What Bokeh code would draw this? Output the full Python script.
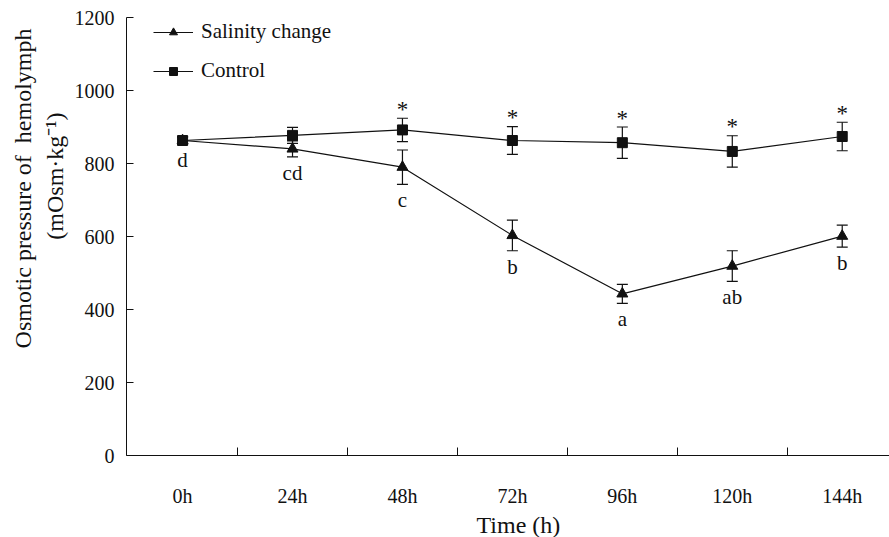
from bokeh.plotting import figure
from bokeh.models import (ColumnDataSource, Whisker, TeeHead, FixedTicker,
                          Legend, LegendItem, Title, Range1d)
from bokeh.core.properties import value
from bokeh.embed import file_html
from bokeh.resources import INLINE

# Sampling times and hemolymph osmotic pressure (mOsm/kg), mean and SD
times = ["0h", "24h", "48h", "72h", "96h", "120h", "144h"]
salinity_mean = [863, 840, 790, 603, 443, 519, 601]
salinity_sd = [10, 22, 47, 42, 26, 42, 30]
control_mean = [863, 877, 892, 863, 857, 833, 874]
control_sd = [10, 22, 32, 38, 43, 43, 39]
# Significance annotations
salinity_letters = ["d", "cd", "c", "b", "a", "ab", "b"]
control_marks = ["", "", "*", "*", "*", "*", "*"]
y_ticks = [0, 200, 400, 600, 800, 1000, 1200]

FONT_NAME = "Liberation Serif"
FONT = value(FONT_NAME)
INK = "#111111"

xs = list(range(len(times)))
sal = ColumnDataSource(dict(
    x=xs, y=salinity_mean,
    lower=[m - s for m, s in zip(salinity_mean, salinity_sd)],
    upper=[m + s for m, s in zip(salinity_mean, salinity_sd)],
    txt=salinity_letters))
ctl = ColumnDataSource(dict(
    x=xs, y=control_mean,
    lower=[m - s for m, s in zip(control_mean, control_sd)],
    upper=[m + s for m, s in zip(control_mean, control_sd)],
    txt=control_marks))

p = figure(width=889, height=537,
           x_range=Range1d(-0.51, len(times) - 0.57),
           y_range=Range1d(0, 1200),
           output_backend="svg", toolbar_location=None,
           min_border_left=126, min_border_right=0,
           min_border_top=17, min_border_bottom=82)
p.outline_line_color = None
p.xgrid.visible = False
p.ygrid.visible = False
p.background_fill_color = "white"
p.border_fill_color = "white"

# X axis: labels at the time points, tick marks between them
p.xaxis.ticker = FixedTicker(ticks=xs, minor_ticks=[i + 0.5 for i in xs[:-1]])
p.xaxis.major_label_overrides = {i: t for i, t in enumerate(times)}
p.xaxis.major_tick_in = 0
p.xaxis.major_tick_out = 0
p.xaxis.minor_tick_in = 8
p.xaxis.minor_tick_out = 0
p.xaxis.minor_tick_line_color = INK
p.xaxis.major_label_standoff = 29

p.yaxis.ticker = FixedTicker(ticks=y_ticks)
p.yaxis.minor_tick_line_color = None
p.yaxis.major_tick_in = 7
p.yaxis.major_tick_out = 0
p.yaxis.major_label_standoff = 12

for ax in (p.xaxis[0], p.yaxis[0]):
    ax.axis_line_color = INK
    ax.major_tick_line_color = INK
    ax.major_label_text_font = FONT_NAME
    ax.major_label_text_font_size = "20px"
    ax.major_label_text_color = INK

# Error bars
for src in (sal, ctl):
    w = Whisker(base="x", lower="lower", upper="upper", source=src,
                line_color=INK, line_width=1.2,
                upper_head=TeeHead(size=11, line_color=INK, line_width=1.2),
                lower_head=TeeHead(size=11, line_color=INK, line_width=1.2))
    p.add_layout(w)

# Series
sal_line = p.line("x", "y", source=sal, line_color=INK, line_width=1.2)
sal_pts = p.scatter("x", "y", source=sal, marker="triangle", size=11,
                    fill_color=INK, line_color=INK)
ctl_line = p.line("x", "y", source=ctl, line_color=INK, line_width=1.2)
ctl_pts = p.scatter("x", "y", source=ctl, marker="square", size=10,
                    fill_color=INK, line_color=INK)

# Letters under the salinity points, asterisks above the control points
p.text("x", "lower", text="txt", source=sal, text_align="center",
       text_baseline="top", y_offset=4, text_font=FONT,
       text_font_size="21px", text_color=INK)
p.text("x", "upper", text="txt", source=ctl, text_align="center",
       text_baseline="alphabetic", y_offset=-9, text_font=FONT,
       text_font_size="23px", text_color=INK)

legend = Legend(items=[
    LegendItem(label="Salinity change", renderers=[sal_line, sal_pts]),
    LegendItem(label="Control", renderers=[ctl_line, ctl_pts]),
], location=(27, 372), glyph_width=40, glyph_height=20, label_height=20,
    spacing=14, padding=0, margin=0, label_standoff=8,
    border_line_color=None, background_fill_alpha=0,
    label_text_font=FONT_NAME, label_text_font_size="21px",
    label_text_color=INK)
p.add_layout(legend)

# Two-line y-axis title, stacked left of the tick labels
y_unit = Title(text="(mOsm·kg⁻¹)", align="right", offset=95, standoff=8,
               text_font=FONT_NAME, text_font_size="24px",
               text_font_style="normal", text_color=INK)
y_name = Title(text="Osmotic pressure of\u00a0 hemolymph", align="right",
               offset=11, standoff=0, text_font=FONT_NAME,
               text_font_size="24px", text_font_style="normal",
               text_color=INK)
p.add_layout(y_unit, "left")
p.add_layout(y_name, "left")

# X-axis title
x_name = Title(text="Time (h)", align="left", offset=350, standoff=0,
               text_font=FONT_NAME, text_font_size="24px",
               text_font_style="normal", text_color=INK)
p.add_layout(x_name, "below")

open("out.html", "w").write(file_html(p, INLINE))
